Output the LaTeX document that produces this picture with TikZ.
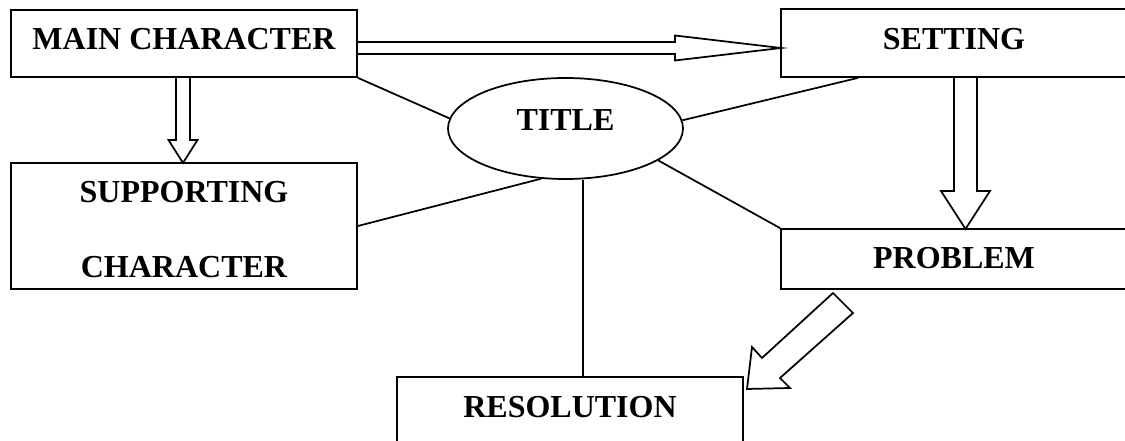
\documentclass[tikz,border=0pt]{standalone}
\usepackage{fontspec}
\setmainfont{Liberation Serif}
\usetikzlibrary{shapes.geometric,calc}
\begin{document}
\begin{tikzpicture}[x=0.75pt,y=-0.75pt,
  boxbase/.style={draw, line width=1.3pt, rectangle, inner sep=0pt,
    font=\bfseries\fontsize{24}{28}\selectfont},
  box/.style={boxbase, text height=16.2pt, text depth=6.8pt},
  oval/.style={draw, line width=1.3pt, ellipse, inner sep=0pt,
    font=\bfseries\fontsize{24}{28}\selectfont, text height=16.2pt, text depth=12.8pt},
  link/.style={line width=1.3pt},
  blockarrow/.style={line width=1.3pt, line join=miter}
]
\useasboundingbox (0,0) rectangle (1125,441);

% nodes
\node[box, minimum width=259.5pt, minimum height=50.25pt] (main) at (184,43.5) {MAIN CHARACTER};
\node[box, minimum width=259.5pt, minimum height=51pt] (setting) at (954,43) {SETTING};
\node[box, minimum width=259.5pt, minimum height=45pt, text depth=1.5pt] (problem) at (954,259) {PROBLEM};
\node[boxbase, minimum width=259.5pt, minimum height=94.5pt, align=center,
      font=\bfseries\fontsize{24}{56.25}\selectfont]
      (supp) at (184,226) {\rule{0pt}{21.4pt}SUPPORTING\\CHARACTER};
\node[box, minimum width=259.5pt, minimum height=51.75pt] (res) at (570,411.5) {RESOLUTION};
\node[oval, minimum width=176.25pt, minimum height=75.75pt] (title) at (565.5,128.5) {TITLE};

% plain connectors to the title
\draw[link] (main.south east) -- (title.175.3);
\coordinate (sA) at ($(setting.south west)+(78,0)$);
\draw[link] (sA) -- (title.4.6);
\draw[link] (title.-19.5) -- (problem.north west);
\draw[link] (supp.east) -- (title.-116.8);
\coordinate (rA) at ($(res.north)+(13,0)$);
\draw[link] (rA) -- (title.south -| rA);

% block arrows
\draw[blockarrow] (357,42) -- (675,42) -- (675,35.5) -- (781,48) -- (675,60.5) -- (675,54) -- (357,54);
\draw[blockarrow] (176,77) -- (176,140) -- (168.5,140) -- (183,163) -- (197.5,140) -- (190,140) -- (190,77);
\draw[blockarrow] (954,77) -- (954,191) -- (941,191) -- (965.5,229) -- (990,191) -- (977,191) -- (977,77);
\draw[blockarrow] (833,293) -- (853,313) -- (780,378) -- (790,388) -- (747,389) -- (752,347) -- (762,358) -- cycle;
\end{tikzpicture}
\end{document}
